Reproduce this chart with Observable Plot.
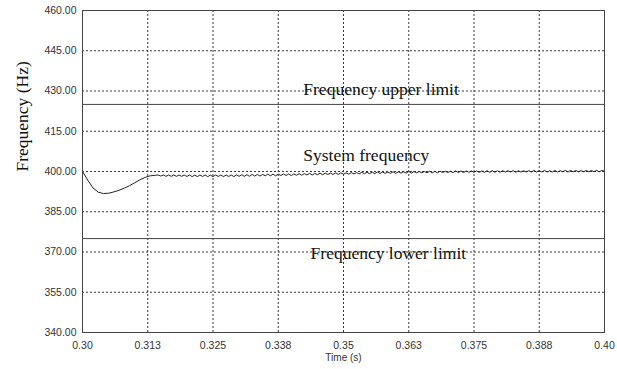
<!DOCTYPE html>
<html>
<head>
<meta charset="utf-8">
<script src="https://cdn.jsdelivr.net/npm/d3@7"></script>
<script src="https://cdn.jsdelivr.net/npm/@observablehq/plot@0.6"></script>
<style>
  html, body { margin: 0; padding: 0; background: #ffffff; }
</style>
</head>
<body>
<div id="chart"></div>
<script>
// ---- Data ----
const xTicks = [0.3, 0.3125, 0.325, 0.3375, 0.35, 0.3625, 0.375, 0.3875, 0.4];
const xTickLabels = ["0.30", "0.313", "0.325", "0.338", "0.35", "0.363", "0.375", "0.388", "0.40"];
const yTicks = [340, 355, 370, 385, 400, 415, 430, 445, 460];
const limitValues = [425, 375];
const limitLabels = ["Frequency upper limit", "Frequency lower limit"];
const systemLabel = "System frequency";

// initial transient (s, Hz)
const dipTimes = [0.300, 0.301, 0.302, 0.303, 0.304, 0.305, 0.306, 0.307, 0.308, 0.309, 0.310, 0.311, 0.312, 0.313, 0.314];
const dipValues = [400.0, 396.8, 393.9, 392.3, 391.8, 391.9, 392.4, 393.0, 393.8, 394.7, 395.8, 396.9, 397.8, 398.4, 398.6];

// sampled ripple after recovery, one sample every 0.5 ms from 0.3145 s
const rippleStart = 0.3145;
const rippleStep = 0.0005;
const rippleValues = [
  398.7, 398.3, 398.7, 398.2, 398.7, 398.2, 398.7, 398.2, 398.7, 398.2, 398.7,
  398.15, 398.7, 398.1, 398.65, 398.1, 398.7, 398.15, 398.7, 398.1, 398.65,
  398.1, 398.7, 398.15, 398.7, 398.1, 398.7, 398.15, 398.7, 398.1, 398.75,
  398.2, 398.8, 398.2, 398.8, 398.2, 398.9, 398.3, 398.9, 398.3, 398.9,
  398.4, 399.0, 398.4, 399.0, 398.4, 399.0, 398.5, 399.1, 398.5, 399.1,
  398.5, 399.1, 398.6, 399.2, 398.6, 399.2, 398.7, 399.3, 398.7, 399.3,
  398.8, 399.4, 398.8, 399.4, 398.9, 399.4, 398.9, 399.5, 398.9, 399.5,
  399.0, 399.5, 399.0, 399.6, 399.1, 399.6, 399.1, 399.7, 399.2, 399.7,
  399.2, 399.7, 399.2, 399.8, 399.3, 399.8, 399.3, 399.8, 399.3, 399.9,
  399.3, 399.9, 399.4, 399.9, 399.4, 400.0, 399.4, 400.0, 399.5, 400.0,
  399.5, 400.0, 399.5, 400.1, 399.5, 400.1, 399.5, 400.1, 399.6, 400.1,
  399.6, 400.1, 399.6, 400.2, 399.6, 400.2, 399.6, 400.2, 399.7, 400.2,
  399.7, 400.2, 399.7, 400.2, 399.7, 400.3, 399.7, 400.3, 399.7, 400.3,
  399.7, 400.3, 399.8, 400.3, 399.8, 400.3, 399.7, 400.3, 399.8, 400.3,
  399.8, 400.3, 399.8, 400.4, 399.8, 400.3, 399.8, 400.4, 399.8, 400.3,
  399.8, 400.4, 399.8, 400.3, 399.9, 400.4, 399.8, 400.4, 399.9, 400.4,
  399.9, 400.3, 399.9, 400.4, 399.9, 400.4, 399.9, 400.4, 399.9, 400.4, 400.1
];

// ---- Build table ----
const series = dipTimes.map((t, i) => ({t, f: dipValues[i]}))
  .concat(rippleValues.map((f, i) => ({t: rippleStart + i * rippleStep, f})));

const serif = "'Liberation Serif', 'Times New Roman', Times, serif";
const gridStyle = {stroke: "#3a3a3a", strokeWidth: 1, strokeDasharray: "2,2"};

const chart = Plot.plot({
  width: 617,
  height: 369,
  marginLeft: 82,
  marginRight: 13,
  marginTop: 10,
  marginBottom: 37,
  style: {fontFamily: "'Liberation Sans', Arial, sans-serif", fontSize: "10.5px", background: "#ffffff", color: "#333"},
  x: {domain: [0.3, 0.4]},
  y: {domain: [340, 460]},
  marks: [
    Plot.ruleX(xTicks.slice(1, -1), gridStyle),
    Plot.ruleY(yTicks.slice(1, -1), gridStyle),
    Plot.ruleY(limitValues, {stroke: "#444", strokeWidth: 1}),
    Plot.line(series, {x: "t", y: "f", stroke: "#222", strokeWidth: 1}),
    Plot.frame({stroke: "#444", strokeWidth: 1}),
    Plot.axisX({ticks: xTicks, tickSize: 0, tickPadding: 9, tickFormat: (d, i) => xTickLabels[i], label: null, fill: "#333"}),
    Plot.axisY({ticks: yTicks, tickSize: 0, tickPadding: 6, tickFormat: d => d.toFixed(2), label: null, fill: "#333"}),
    Plot.text([limitLabels[0]], {x: () => 0.3423, y: () => limitValues[0], text: d => d, textAnchor: "start", dy: -15, fontFamily: serif, fontSize: 17.5, fill: "#111"}),
    Plot.text([systemLabel], {x: () => 0.3423, y: () => 400, text: d => d, textAnchor: "start", dy: -16, fontFamily: serif, fontSize: 17.5, fill: "#111"}),
    Plot.text([limitLabels[1]], {x: () => 0.3437, y: () => limitValues[1], text: d => d, textAnchor: "start", dy: 15, fontFamily: serif, fontSize: 17.5, fill: "#111"}),
    Plot.text(["Frequency (Hz)"], {frameAnchor: "left", text: d => d, rotate: -90, dx: -60, fontFamily: serif, fontSize: 17.5, fill: "#111"}),
    Plot.text(["Time (s)"], {frameAnchor: "bottom", text: d => d, dy: 28, fontSize: 10, fill: "#333"})
  ]
});
document.getElementById("chart").append(chart);
</script>
</body>
</html>
